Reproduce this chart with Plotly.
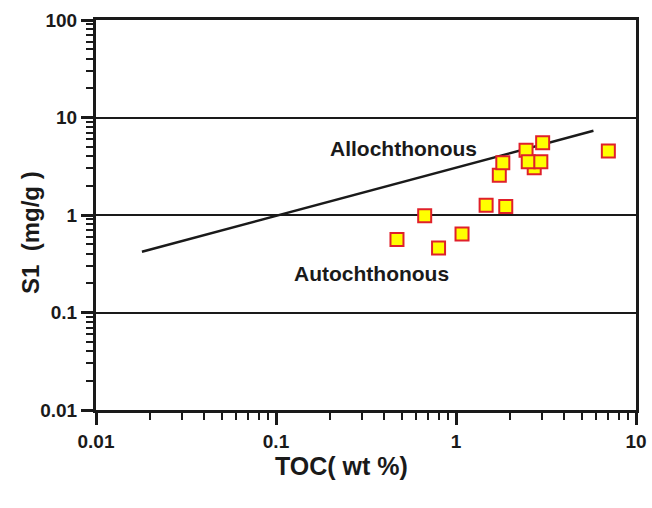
import plotly.graph_objects as go

# Data
toc = [0.47, 0.67, 0.80, 1.08, 1.47, 1.89, 1.74, 1.82, 2.72, 2.45, 3.03, 2.52, 2.96, 7.02]
s1 = [0.56, 0.98, 0.46, 0.64, 1.26, 1.22, 2.55, 3.44, 3.06, 4.61, 5.52, 3.52, 3.52, 4.53]

line_toc = [0.018, 5.8]
line_s1 = [0.42, 7.3]

x_ticks = [0.01, 0.1, 1, 10]
x_ticklabels = ["0.01", "0.1", "1", "10"]
y_ticks = [0.01, 0.1, 1, 10, 100]
y_ticklabels = ["0.01", "0.1", "1", "10", "100"]

FONT = "Liberation Sans, Arial, sans-serif"
INK = "#1a1a1a"

W, H = 652, 508
L, R, T, B = 96, W - 636, 20, H - 410

fig = go.Figure()
fig.add_trace(go.Scatter(x=line_toc, y=line_s1, mode="lines",
                         line=dict(color=INK, width=2.5),
                         showlegend=False, hoverinfo="skip"))
fig.add_trace(go.Scatter(x=toc, y=s1, mode="markers",
                         marker=dict(symbol="square", size=13, color="#FFFF00",
                                     line=dict(color="#E0202A", width=2)),
                         showlegend=False))

fig.add_annotation(x=-0.289, y=0.677, xref="x", yref="y", text="<b>Allochthonous</b>",
                   showarrow=False, font=dict(family=FONT, size=21, color=INK))
fig.add_annotation(x=-0.472, y=-0.595, xref="x", yref="y", text="<b>Autochthonous</b>",
                   showarrow=False, font=dict(family=FONT, size=21, color=INK))

pw, ph = W - L - R, H - T - B


def px_to_paper(xp, yp):
    fx = (xp - L) / pw
    fy = ((H - yp) - B) / ph
    return fx, fy


tx, ty = px_to_paper(341, 466)
fig.add_annotation(x=tx, y=ty, xref="paper", yref="paper", text="<b>TOC( wt %)</b>",
                   xanchor="center", yanchor="middle",
                   showarrow=False, font=dict(family=FONT, size=25, color=INK))
sx, sy = px_to_paper(30, 233)
fig.add_annotation(x=sx, y=sy, xref="paper", yref="paper", text="<b>S1  (mg/g )</b>",
                   xanchor="center", yanchor="middle",
                   textangle=-90, showarrow=False, font=dict(family=FONT, size=24, color=INK))

axis_common = dict(
    showline=True, linecolor=INK, linewidth=3, mirror=True,
    ticks="outside", ticklen=12, tickwidth=2.5, tickcolor=INK,
    tickfont=dict(family=FONT, size=19, color=INK),
    zeroline=False,
)

fig.update_xaxes(type="log", range=[-2, 1], tickvals=x_ticks,
                 ticktext=["<b>%s</b>" % t for t in x_ticklabels],
                 showgrid=False,
                 minor=dict(ticks="outside", ticklen=7, tickwidth=2, tickcolor=INK,
                            dtick="D1", showgrid=False),
                 **axis_common)
fig.update_yaxes(type="log", range=[-2, 2], tickvals=y_ticks,
                 ticktext=["<b>%s</b>" % t for t in y_ticklabels],
                 showgrid=True, gridcolor=INK, gridwidth=2,
                 minor=dict(ticks="outside", ticklen=7, tickwidth=2, tickcolor=INK,
                            dtick="D1", showgrid=False),
                 **axis_common)

fig.update_layout(
    width=W, height=H,
    margin=dict(l=L, r=R, t=T, b=B, autoexpand=False),
    plot_bgcolor="white", paper_bgcolor="white",
    showlegend=False,
)

fig.write_html("out.html", config={"displayModeBar": False})

# remove the default page margin so the figure fills the window exactly
with open("out.html", encoding="utf-8") as f:
    html = f.read()
html = html.replace("<body>", '<body style="margin:0;overflow:hidden">', 1)
with open("out.html", "w", encoding="utf-8") as f:
    f.write(html)
